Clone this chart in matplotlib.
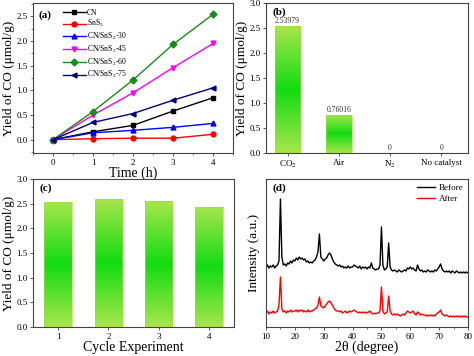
import numpy as np
import matplotlib
matplotlib.use("Agg")
from matplotlib import pyplot as plt
from matplotlib.colors import LinearSegmentedColormap
from matplotlib.ticker import MultipleLocator

plt.rcParams['font.family'] = ['Liberation Serif', 'DejaVu Serif']
plt.rcParams['mathtext.fontset'] = 'stix'

# (a) yield vs time
time_h = [0, 1, 2, 3, 4]
series_names = ['CN', 'SnS$_2$', 'CN/SnS$_2$-30', 'CN/SnS$_2$-45', 'CN/SnS$_2$-60', 'CN/SnS$_2$-75']
cn = [0, 0.16, 0.29, 0.58, 0.85]
sns2 = [0, 0.02, 0.03, 0.03, 0.11]
cn_30 = [0, 0.14, 0.19, 0.25, 0.33]
cn_45 = [0, 0.50, 0.95, 1.46, 1.95]
cn_60 = [0, 0.57, 1.21, 1.93, 2.54]
cn_75 = [0, 0.35, 0.53, 0.80, 1.05]

# (b) atmosphere control
atmos = ['CO$_2$', 'Air', 'N$_2$', 'No catalyst']
atmos_yield = [2.53979, 0.76016, 0, 0]
atmos_text = ['2.53979', '0.76016', '0', '0']

# (c) cycling
cycles = [1, 2, 3, 4]
cycle_yield = [2.54, 2.60, 2.55, 2.44]

# (d) XRD, 0.5 degree steps from 10 to 80
two_theta = np.arange(10, 80.01, 0.5)
xrd_before = [
    60, 62, 59, 61, 60, 62, 59, 61, 62, 66,
    128, 70, 62, 63, 61, 64, 63, 66, 64, 67,
    66, 69, 67, 70, 68, 69, 67, 68, 65, 66,
    64, 65, 64, 66, 67, 70, 75, 93, 70, 68,
    66, 68, 69, 72, 74, 72, 68, 65, 63, 62,
    61, 62, 60, 61, 59, 60, 59, 61, 59, 60,
    60, 62, 61, 60, 59, 61, 58, 60, 59, 60,
    58, 60, 59, 64, 59, 58, 57, 58, 58, 62,
    100, 62, 57, 58, 60, 84, 60, 57, 56, 57,
    56, 55, 57, 56, 55, 56, 57, 56, 59, 58,
    60, 58, 59, 57, 56, 62, 58, 56, 57, 55,
    56, 55, 57, 56, 55, 56, 55, 57, 56, 58,
    60, 63, 58, 56, 55, 56, 55, 56, 54, 56,
    55, 54, 56, 55, 54, 55, 54, 55, 54, 55,
    54]
xrd_after = [
    14, 16, 13, 15, 14, 16, 14, 15, 16, 22,
    50, 18, 15, 16, 14, 16, 15, 17, 15, 16,
    16, 17, 15, 17, 16, 17, 15, 16, 15, 17,
    15, 16, 16, 17, 18, 19, 22, 30, 21, 20,
    19, 21, 23, 25, 26, 24, 22, 19, 17, 16,
    16, 15, 16, 14, 15, 16, 14, 15, 16, 15,
    16, 17, 16, 15, 14, 15, 14, 15, 14, 15,
    14, 15, 16, 14, 13, 14, 13, 14, 14, 16,
    40, 16, 13, 14, 15, 31, 16, 13, 12, 13,
    12, 13, 12, 11, 12, 13, 12, 14, 16, 15,
    14, 15, 16, 13, 12, 15, 14, 12, 13, 12,
    12, 11, 12, 11, 12, 11, 12, 11, 13, 14,
    15, 17, 13, 12, 11, 12, 11, 10, 11, 10,
    11, 10, 11, 10, 11, 10, 11, 10, 11, 10,
    10]

TICK_FS = 6.5
LABEL_FS = 9.5
spine_col = '#444444'

fig = plt.figure(figsize=(4.74, 3.56), dpi=100)
ax_a = fig.add_axes([0.0696, 0.5702, 0.4219, 0.4213])
ax_b = fig.add_axes([0.5612, 0.5702, 0.4262, 0.4213])
ax_c = fig.add_axes([0.0696, 0.0815, 0.4241, 0.4157])
ax_d = fig.add_axes([0.5612, 0.0815, 0.4262, 0.4157])

for ax in (ax_a, ax_b, ax_c, ax_d):
    for sp in ax.spines.values():
        sp.set_color(spine_col)
        sp.set_linewidth(0.8)
    ax.tick_params(direction='out', labelsize=TICK_FS, length=2.5, width=0.6, color=spine_col, pad=1.5)
    ax.tick_params(which='minor', direction='out', length=1.5, width=0.5, color=spine_col)

grad_cmap = LinearSegmentedColormap.from_list('g', ['#a9e64c', '#12dc12', '#a9e64c'])
grad = np.linspace(0, 1, 256).reshape(-1, 1)


def gradient_bars(ax, xs, hs, width):
    bars = ax.bar(xs, hs, width=width, facecolor='none', edgecolor='#9ed94a', linewidth=0.4, zorder=3)
    for b in bars:
        h = b.get_height()
        if h <= 0:
            continue
        x0 = b.get_x()
        im = ax.imshow(grad, cmap=grad_cmap, aspect='auto', zorder=2,
                       extent=[x0, x0 + b.get_width(), 0, h], origin='lower')
        im.set_clip_path(b)
    return bars


# ---- (a)
colors = ['black', 'red', 'blue', 'magenta', '#1a8a1a', '#000080']
markers = ['s', 'o', '^', 'v', 'D', '<']
for vals, name, c, m in zip([cn, sns2, cn_30, cn_45, cn_60, cn_75], series_names, colors, markers):
    ax_a.plot(time_h, vals, color=c, marker=m, markersize=3.5, linewidth=1.0, label=name)
ax_a.set_xlim(-0.5, 4.5)
ax_a.set_ylim(-0.27, 2.77)
ax_a.xaxis.set_major_locator(MultipleLocator(1))
ax_a.xaxis.set_minor_locator(MultipleLocator(0.5))
ax_a.yaxis.set_major_locator(MultipleLocator(0.5))
ax_a.yaxis.set_minor_locator(MultipleLocator(0.25))
ax_a.yaxis.set_major_formatter(matplotlib.ticker.FormatStrFormatter('%.1f'))
ax_a.set_xlabel('Time (h)', fontsize=LABEL_FS + 0.5, labelpad=0)
ax_a.set_ylabel('Yield of CO (μmol/g)', fontsize=LABEL_FS, labelpad=1)
ax_a.legend(loc='upper left', bbox_to_anchor=(0.12, 1.0), frameon=False, fontsize=5.5,
            handlelength=3.0, labelspacing=0.2, handletextpad=0.2, borderaxespad=0.35)
ax_a.text(0.03, 0.95, '(a)', transform=ax_a.transAxes, fontsize=8, fontweight='bold', va='top')

# ---- (b)
xb = np.arange(len(atmos))
gradient_bars(ax_b, xb, atmos_yield, 0.5)
for x, v, t in zip(xb, atmos_yield, atmos_text):
    ax_b.text(x, v + 0.03, t, ha='center', va='bottom', fontsize=5.5, color='#333333')
ax_b.set_xlim(-0.42, 3.52)
ax_b.set_ylim(0, 3.0)
ax_b.set_xticks(xb)
ax_b.set_xticklabels(atmos)
ax_b.yaxis.set_major_locator(MultipleLocator(0.5))
ax_b.yaxis.set_major_formatter(matplotlib.ticker.FormatStrFormatter('%.1f'))
ax_b.set_ylabel('Yield of CO (μmol/g)', fontsize=LABEL_FS, labelpad=1)
ax_b.text(0.03, 0.97, '(b)', transform=ax_b.transAxes, fontsize=8, fontweight='bold', va='top')

# ---- (c)
gradient_bars(ax_c, cycles, cycle_yield, 0.55)
ax_c.set_xlim(0.5, 4.5)
ax_c.set_ylim(0, 3.0)
ax_c.set_xticks(cycles)
ax_c.yaxis.set_major_locator(MultipleLocator(0.5))
ax_c.yaxis.set_major_formatter(matplotlib.ticker.FormatStrFormatter('%.1f'))
ax_c.set_xlabel('Cycle Experiment', fontsize=LABEL_FS + 0.5, labelpad=0)
ax_c.set_ylabel('Yield of CO (μmol/g)', fontsize=LABEL_FS, labelpad=1)
ax_c.text(0.03, 0.97, '(c)', transform=ax_c.transAxes, fontsize=8, fontweight='bold', va='top')

# ---- (d)
ax_d.plot(two_theta, xrd_before, color='black', linewidth=1.0, label='Before')
ax_d.plot(two_theta, xrd_after, color='red', linewidth=1.0, label='After')
ax_d.set_xlim(10, 80)
ax_d.set_ylim(0, 148)
ax_d.set_yticks([])
ax_d.xaxis.set_major_locator(MultipleLocator(10))
ax_d.xaxis.set_minor_locator(MultipleLocator(5))
ax_d.set_xlabel('2θ (degree)', fontsize=LABEL_FS + 0.5, labelpad=0)
ax_d.set_ylabel('Intensity (a.u.)', fontsize=LABEL_FS, labelpad=4)
ax_d.legend(loc='upper right', frameon=False, fontsize=6.5, handlelength=2.0,
            labelspacing=0.3, handletextpad=0.4, borderaxespad=0.1)
ax_d.text(0.03, 0.97, '(d)', transform=ax_d.transAxes, fontsize=8, fontweight='bold', va='top')

fig.savefig('out.png', dpi=100)
